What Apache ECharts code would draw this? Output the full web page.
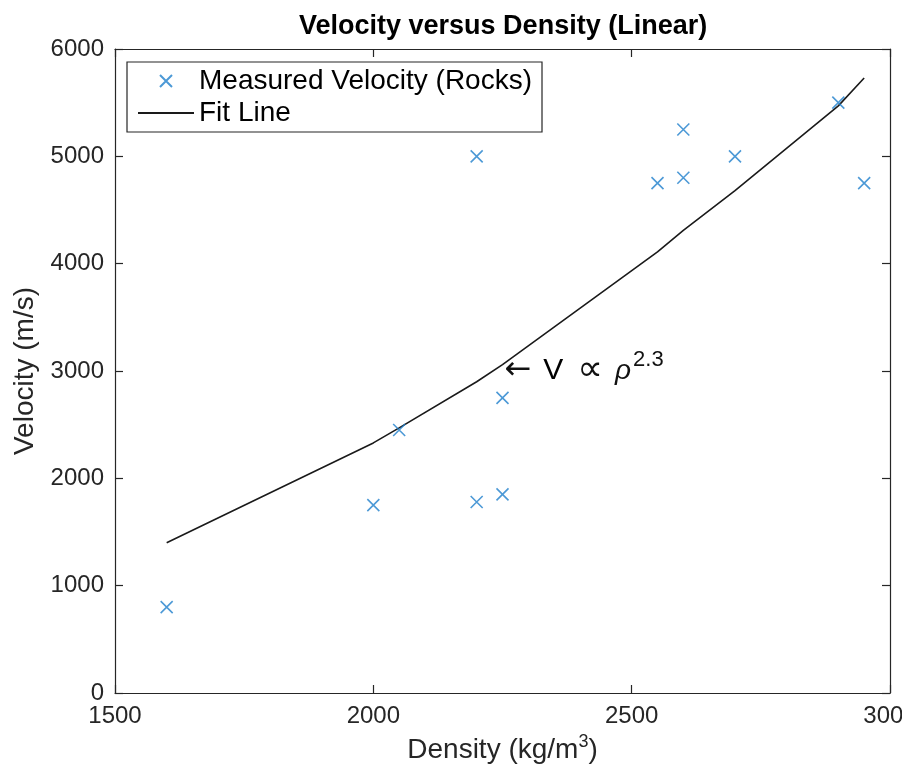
<!DOCTYPE html>
<html>
<head>
<meta charset="utf-8">
<script src="https://cdn.jsdelivr.net/npm/echarts@6/dist/echarts.min.js"></script>
<style>
  html, body { margin: 0; padding: 0; background: #fff; }
  #main { width: 902px; height: 775px; }
</style>
</head>
<body>
<div id="main"></div>
<script>
// measured rock samples
var densityPts = [1600, 2000, 2050, 2200, 2200, 2250, 2250, 2550, 2600, 2600, 2700, 2900, 2950];
var velocityPts = [800, 1750, 2450, 1780, 5000, 1850, 2750, 4750, 4800, 5250, 5000, 5500, 4750];

// fit line vertices (V ~ rho^2.3)
var fitDensity = [1600, 2000, 2050, 2200, 2250, 2550, 2600, 2700, 2900, 2950];
var fitVelocity = [1400, 2330, 2470, 2900, 3060, 4110, 4310, 4680, 5470, 5730];

var xTicks = [1500, 2000, 2500, 3000];
var yTicks = [0, 1000, 2000, 3000, 4000, 5000, 6000];

var axisCol = '#262626';
var font = 'Liberation Sans';

var scatterData = densityPts.map(function (d, i) { return [d, velocityPts[i]]; });
var fitData = fitDensity.map(function (d, i) { return [d, fitVelocity[i]]; });

var myChart = echarts.init(document.getElementById('main'));

function boxAxis(extra) {
  var base = {
    axisLine: { show: true, onZero: false, lineStyle: { color: axisCol, width: 1.2 } },
    axisTick: { show: true, inside: true, length: 8, lineStyle: { color: axisCol, width: 1.2 } },
    splitLine: { show: false }
  };
  for (var k in extra) base[k] = extra[k];
  return base;
}

var plainNum = function (v) { return String(v); };

var option = {
  animation: false,
  backgroundColor: '#fff',
  title: {
    text: 'Velocity versus Density (Linear)',
    left: 294,
    top: 8,
    textStyle: { fontFamily: font, fontSize: 27, fontWeight: 'bold', color: '#000' }
  },
  legend: {
    orient: 'vertical',
    left: 127,
    top: 62,
    padding: [5, 10, 5, 10],
    itemGap: 4,
    itemWidth: 56,
    itemHeight: 12,
    borderColor: axisCol,
    borderWidth: 1.2,
    borderRadius: 0,
    backgroundColor: '#fff',
    textStyle: { fontFamily: font, fontSize: 28, color: '#000' },
    data: ['Measured Velocity (Rocks)', 'Fit Line']
  },
  grid: { left: 115, right: 12, top: 49, bottom: 82, containLabel: false, outerBoundsMode: 'none' },
  xAxis: [
    boxAxis({
      type: 'value', min: xTicks[0], max: xTicks[xTicks.length - 1], interval: 500,
      position: 'bottom',
      name: 'Density (kg/m{sup|3})',
      nameLocation: 'middle',
      nameGap: 38,
      nameTextStyle: {
        fontFamily: font, fontSize: 28, color: axisCol,
        rich: { sup: { fontFamily: font, fontSize: 18, color: axisCol, padding: [0, 0, 16, 0] } }
      },
      axisLabel: { margin: 11, fontFamily: font, fontSize: 24, color: axisCol, formatter: plainNum }
    }),
    boxAxis({
      type: 'value', min: xTicks[0], max: xTicks[xTicks.length - 1], interval: 500,
      position: 'top',
      axisLabel: { show: false }
    })
  ],
  yAxis: [
    boxAxis({
      type: 'value', min: yTicks[0], max: yTicks[yTicks.length - 1], interval: 1000,
      position: 'left',
      name: 'Velocity (m/s)',
      nameLocation: 'middle',
      nameGap: 57,
      nameTextStyle: { fontFamily: font, fontSize: 28, color: axisCol },
      axisLabel: { margin: 11, fontFamily: font, fontSize: 24, color: axisCol, formatter: plainNum }
    }),
    boxAxis({
      type: 'value', min: yTicks[0], max: yTicks[yTicks.length - 1], interval: 1000,
      position: 'right',
      axisLabel: { show: false }
    })
  ],
  series: [
    {
      name: 'Measured Velocity (Rocks)',
      type: 'scatter',
      symbol: 'path://M0,0L10,10M0,10L10,0',
      symbolSize: 12,
      itemStyle: { color: 'none', borderColor: '#1f80cc', borderWidth: 1.6 },
      data: scatterData,
      z: 3
    },
    {
      name: 'Fit Line',
      type: 'line',
      symbol: 'none',
      showSymbol: false,
      lineStyle: { color: '#1a1a1a', width: 1.6, opacity: 1 },
      itemStyle: { color: '#1a1a1a', opacity: 0 },
      data: fitData,
      markPoint: {
        symbol: 'circle',
        symbolSize: 0,
        silent: true,
        label: {
          show: true,
          position: 'right',
          distance: 2,
          formatter: '{a|\u2190}{b|V}{c|\u221d}{d|\u03c1}{e|2.3}',
          rich: {
            a: { fontFamily: 'DejaVu Sans', fontSize: 32, color: '#111', padding: [0, 12, 0, 0] },
            b: { fontFamily: font, fontSize: 30, color: '#000', padding: [0, 14, 0, 0] },
            c: { fontFamily: 'DejaVu Sans', fontSize: 36, color: '#111', padding: [0, 12, 0, 0] },
            d: { fontFamily: font, fontSize: 28, fontStyle: 'italic', color: '#111' },
            e: { fontFamily: font, fontSize: 22, color: '#111', padding: [0, 0, 22, 2] }
          }
        },
        data: [{ coord: [2250, 3000] }]
      }
    }
  ]
};

myChart.setOption(option);
</script>
</body>
</html>
